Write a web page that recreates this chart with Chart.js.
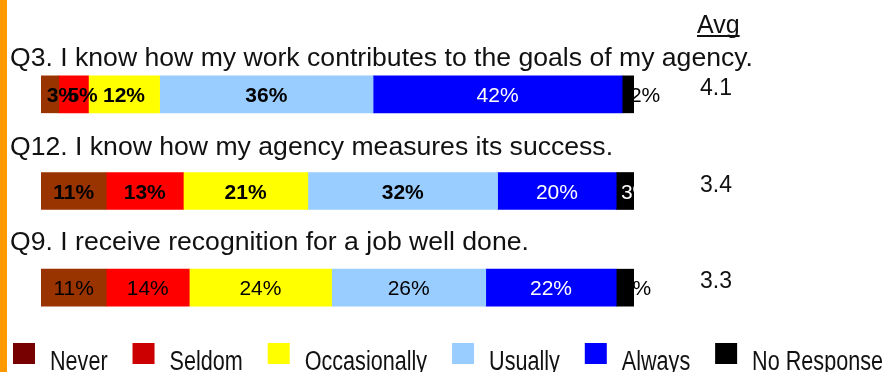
<!DOCTYPE html>
<html lang="en">
<head>
    <meta charset="UTF-8">
    <script src="https://cdn.jsdelivr.net/npm/chart.js@4/dist/chart.umd.min.js"></script>
    <title>Agency survey</title>
    <style>
        body { margin: 0; background: #fff; }
        .wrapper { position: relative; width: 888px; height: 372px; }
    </style>
</head>
<body>
    <div class="wrapper">
        <canvas id="canvas"></canvas>
    </div>
<script>

const questions = [
    'Q3. I know how my work contributes to the goals of my agency.',
    'Q12. I know how my agency measures its success.',
    'Q9. I receive recognition for a job well done.'
]
const responses = ['Never', 'Seldom', 'Occasionally', 'Usually', 'Always', 'No Response']
const never = [3, 11, 11]
const seldom = [5, 13, 14]
const occasionally = [12, 21, 24]
const usually = [36, 32, 26]
const always = [42, 20, 22]
const noResponse = [2, 3, 3]
const averages = ['4.1', '3.4', '3.3']

const barColors = ['#993300', '#ff0000', '#ffff00', '#99ccff', '#0000ff', '#000000']
const legendColors = ['#770000', '#cc0000', '#ffff00', '#99ccff', '#0000ff', '#000000']
const FONT = '"Liberation Sans", Arial, Helvetica, sans-serif'

// small label nudges, like the original slide
const labelNudge = [[12, 9, 0, 0, 0, 17], [0, 0, 0, 0, 0, 11], [0, 0, 0, 0, 0, 11]]
const questionOffset = [-28.5, -36.5, -37.5]

const series = [never, seldom, occasionally, usually, always, noResponse]

const slidePlugin = {
    id: 'slide',
    beforeDraw(chart) {
        const ctx = chart.ctx
        ctx.save()
        ctx.fillStyle = '#ff9900'
        ctx.fillRect(0, 0, 7, chart.height)
        ctx.restore()
    },
    afterDatasetsDraw(chart) {
        const ctx = chart.ctx
        const y = chart.scales.y
        ctx.save()

        // value labels
        chart.data.datasets.forEach((ds, d) => {
            const meta = chart.getDatasetMeta(d)
            meta.data.forEach((bar, i) => {
                const bold = i < 2 && d < 4
                let color = '#000'
                if (d === 4 || (d === 5 && i === 1)) color = '#fff'
                ctx.font = (bold ? 'bold ' : '') + '21px ' + FONT
                ctx.fillStyle = color
                ctx.textAlign = 'center'
                ctx.textBaseline = 'alphabetic'
                const cx = (bar.x + bar.base) / 2 + labelNudge[i][d]
                ctx.fillText(ds.data[i] + '%', cx, bar.y + 7.5)
            })
        })

        // questions above each bar
        ctx.font = '26.6px ' + FONT
        ctx.fillStyle = '#111'
        ctx.textAlign = 'left'
        chart.data.labels.forEach((q, i) => {
            ctx.fillText(q, 10, y.getPixelForValue(i) + questionOffset[i])
        })

        // average column
        ctx.font = '25px ' + FONT
        ctx.fillText('Avg', 697, 33)
        const w = ctx.measureText('Avg').width
        ctx.fillRect(697, 35, w, 2)
        ctx.font = '23px ' + FONT
        averages.forEach((a, i) => {
            ctx.fillText(a, 700, y.getPixelForValue(i) + 0.5)
        })

        // legend
        ctx.font = '27px ' + FONT
        const sx = 0.8
        const widths = responses.map(r => ctx.measureText(r).width * sx)
        const used = widths.reduce((s, v) => s + v + 37, 0)
        const gap = (883 - 13 - used) / (responses.length - 1)
        let x = 13
        responses.forEach((r, i) => {
            ctx.fillStyle = legendColors[i]
            ctx.fillRect(x, 343, 22, 21)
            ctx.fillStyle = '#111'
            ctx.fillText(r, x + 37, 370, widths[i])
            x += 37 + widths[i] + gap
        })
        ctx.restore()
    }
}

window.onload = () => {
    const el = document.getElementById('canvas')
    new Chart(el, {
        type: 'bar',
        data: {
            labels: questions,
            datasets: responses.map((r, d) => ({
                label: r,
                data: series[d],
                backgroundColor: barColors[d],
                borderWidth: 0,
                barThickness: 37
            }))
        },
        options: {
            indexAxis: 'y',
            responsive: true,
            maintainAspectRatio: false,
            animation: false,
            layout: { padding: { left: 41, right: 254, top: 46, bottom: 36 } },
            scales: {
                x: { stacked: true, min: 0, max: 100, display: false },
                y: { stacked: true, display: false }
            },
            plugins: {
                legend: { display: false },
                tooltip: { enabled: false }
            }
        },
        plugins: [slidePlugin]
    })
}

</script>
</body>
</html>
